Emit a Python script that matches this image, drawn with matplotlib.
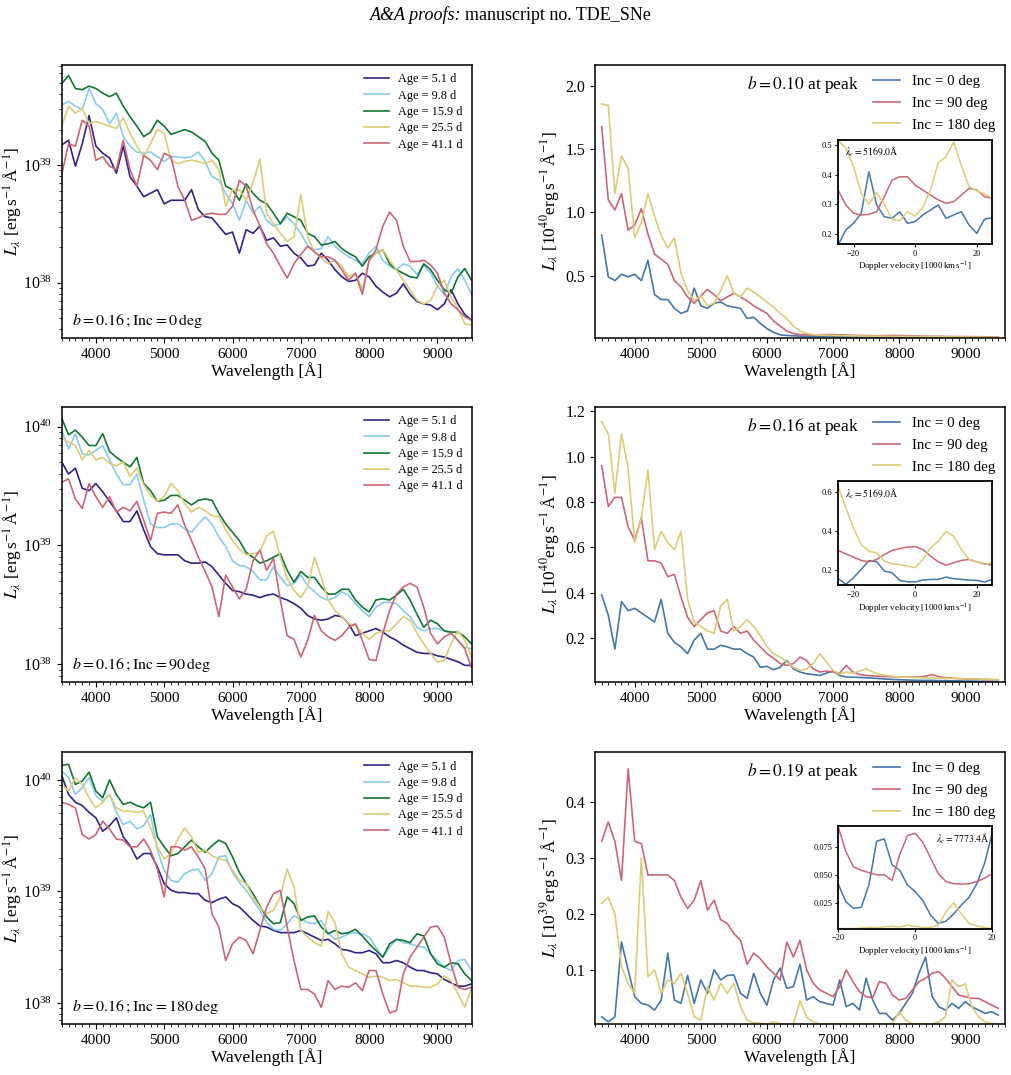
import numpy as np
import matplotlib
matplotlib.use('Agg')
import matplotlib.pyplot as plt
from matplotlib.ticker import MultipleLocator

plt.rcParams['font.family'] = ['Liberation Serif', 'DejaVu Serif']
plt.rcParams['mathtext.fontset'] = 'stix'

# wavelength grid of the read-off spectra [A]
wave = np.arange(3500, 9501, 100)

ages = ['5.1', '9.8', '15.9', '25.5', '41.1']
age_colors = ['#332288', '#88CCEE', '#117733', '#DDCC77', '#CC6677']

# left column: log10 L_lambda [erg/s/A], b = 0.16, Inc = 0 deg
logL_inc0_age5 = [39.17, 39.21, 38.99, 39.18, 39.42, 39.16, 39.10, 39.06, 38.93, 39.16,
                  38.90, 38.82, 38.73, 38.76, 38.79, 38.67, 38.70, 38.70, 38.70, 38.79,
                  38.62, 38.56, 38.55, 38.48, 38.41, 38.43, 38.25, 38.45, 38.42, 38.48,
                  38.36, 38.38, 38.31, 38.32, 38.25, 38.21, 38.14, 38.15, 38.25, 38.19,
                  38.11, 38.05, 38.01, 38.02, 38.08, 38.05, 37.97, 37.92, 37.88, 37.91,
                  37.99, 37.90, 37.84, 37.82, 37.81, 37.77, 37.82, 37.94, 37.82, 37.73,
                  37.68]
logL_inc0_age10 = [39.51, 39.54, 39.50, 39.47, 39.65, 39.52, 39.47, 39.35, 39.44, 39.24,
                   39.16, 39.11, 39.10, 39.11, 39.07, 39.03, 39.07, 39.07, 39.06, 39.07,
                   39.11, 39.03, 38.90, 38.87, 38.76, 38.67, 38.53, 38.70, 38.59, 38.65,
                   38.53, 38.48, 38.50, 38.56, 38.50, 38.42, 38.31, 38.28, 38.29, 38.39,
                   38.31, 38.26, 38.22, 38.19, 38.16, 38.25, 38.31, 38.19, 38.14, 38.11,
                   38.16, 38.14, 38.07, 38.15, 38.08, 37.97, 37.90, 38.05, 38.12, 38.02,
                   37.90]
logL_inc0_age16 = [39.69, 39.76, 39.65, 39.64, 39.67, 39.65, 39.61, 39.58, 39.61, 39.50,
                   39.41, 39.33, 39.24, 39.28, 39.38, 39.33, 39.26, 39.28, 39.30, 39.28,
                   39.24, 39.20, 39.10, 39.04, 38.82, 38.79, 38.70, 38.84, 38.76, 38.70,
                   38.67, 38.59, 38.50, 38.59, 38.56, 38.53, 38.42, 38.39, 38.32, 38.33,
                   38.35, 38.29, 38.25, 38.22, 38.14, 38.22, 38.25, 38.28, 38.16, 38.11,
                   38.08, 38.05, 38.04, 38.16, 38.11, 38.02, 37.94, 37.91, 38.05, 38.12,
                   38.02]
logL_inc0_age26 = [39.33, 39.50, 39.44, 39.48, 39.35, 39.37, 39.35, 39.33, 39.31, 39.40,
                   39.27, 39.16, 39.07, 39.18, 39.30, 39.27, 39.04, 39.01, 39.03, 39.04,
                   39.03, 39.01, 39.04, 38.96, 38.65, 38.79, 38.79, 38.70, 38.85, 39.05,
                   38.59, 38.50, 38.42, 38.35, 38.39, 38.75, 38.39, 38.26, 38.21, 38.16,
                   38.19, 38.14, 38.05, 38.08, 37.94, 38.19, 38.25, 38.28, 38.19, 38.11,
                   38.02, 37.94, 37.85, 37.82, 37.85, 37.97, 38.02, 37.88, 37.78, 37.65,
                   37.64]
logL_inc0_age41 = [38.92, 39.18, 39.16, 39.38, 39.33, 39.04, 39.07, 38.99, 38.96, 39.21,
                   38.96, 38.82, 39.08, 39.04, 38.96, 39.10, 39.07, 38.82, 38.70, 38.53,
                   38.55, 38.58, 38.59, 38.58, 38.58, 38.65, 38.87, 38.82, 38.62, 38.48,
                   38.33, 38.25, 38.14, 38.04, 38.16, 38.24, 38.31, 38.26, 38.22, 38.22,
                   38.19, 38.11, 38.02, 38.08, 37.90, 38.19, 38.28, 38.48, 38.60, 38.53,
                   38.31, 38.18, 38.18, 38.19, 38.15, 38.08, 37.91, 37.82, 37.77, 37.71,
                   37.68]

# b = 0.16, Inc = 90 deg
logL_inc90_age5 = [39.70, 39.60, 39.65, 39.48, 39.46, 39.52, 39.45, 39.37, 39.29, 39.20,
                   39.20, 39.29, 39.13, 38.99, 38.93, 38.92, 38.92, 38.92, 38.87, 38.85,
                   38.85, 38.86, 38.82, 38.75, 38.68, 38.62, 38.61, 38.59, 38.58, 38.56,
                   38.58, 38.59, 38.56, 38.54, 38.51, 38.47, 38.41, 38.38, 38.37, 38.38,
                   38.41, 38.40, 38.34, 38.24, 38.26, 38.28, 38.30, 38.27, 38.23, 38.20,
                   38.16, 38.13, 38.10, 38.09, 38.09, 38.07, 38.06, 38.04, 38.02, 37.99,
                   37.99]
logL_inc90_age10 = [39.97, 39.81, 39.94, 39.77, 39.76, 39.80, 39.84, 39.72, 39.60, 39.51,
                    39.51, 39.60, 39.38, 39.18, 39.15, 39.15, 39.18, 39.18, 39.14, 39.11,
                    39.18, 39.24, 39.18, 39.07, 38.99, 38.87, 38.83, 38.82, 38.78, 38.71,
                    38.71, 38.82, 38.73, 38.66, 38.68, 38.75, 38.66, 38.61, 38.56, 38.54,
                    38.56, 38.61, 38.58, 38.51, 38.45, 38.40, 38.48, 38.52, 38.52, 38.51,
                    38.45, 38.40, 38.31, 38.28, 38.30, 38.30, 38.28, 38.26, 38.20, 38.14,
                    38.13]
logL_inc90_age16 = [40.07, 39.93, 39.97, 39.91, 39.84, 39.84, 39.94, 39.79, 39.74, 39.70,
                    39.66, 39.74, 39.52, 39.46, 39.37, 39.38, 39.42, 39.42, 39.38, 39.34,
                    39.38, 39.39, 39.38, 39.27, 39.18, 39.11, 39.04, 38.94, 38.90, 38.85,
                    38.87, 38.90, 38.93, 38.79, 38.69, 38.78, 38.73, 38.73, 38.65, 38.59,
                    38.59, 38.63, 38.63, 38.54, 38.48, 38.44, 38.54, 38.55, 38.54, 38.58,
                    38.63, 38.54, 38.42, 38.31, 38.37, 38.34, 38.28, 38.27, 38.27, 38.23,
                    38.17]
logL_inc90_age26 = [39.90, 39.87, 39.84, 39.72, 39.80, 39.72, 39.74, 39.69, 39.67, 39.70,
                    39.58, 39.65, 39.51, 39.42, 39.37, 39.41, 39.52, 39.46, 39.35, 39.28,
                    39.32, 39.29, 39.25, 39.24, 39.13, 39.04, 38.97, 38.92, 38.93, 38.94,
                    39.08, 39.12, 38.90, 38.72, 38.62, 38.56, 38.65, 38.90, 38.73, 38.54,
                    38.45, 38.40, 38.34, 38.33, 38.26, 38.21, 38.26, 38.28, 38.28, 38.34,
                    38.40, 38.37, 38.26, 38.17, 38.09, 38.02, 38.03, 38.17, 38.28, 38.20,
                    38.06]
logL_inc90_age41 = [39.53, 39.56, 39.39, 39.31, 39.52, 39.41, 39.32, 39.41, 39.28, 39.32,
                    39.29, 39.37, 39.21, 39.04, 39.27, 39.28, 39.27, 39.34, 39.17, 39.04,
                    38.90, 38.78, 38.65, 38.40, 38.75, 38.65, 38.55, 38.63, 38.87, 38.96,
                    38.79, 38.89, 38.54, 38.24, 38.21, 38.06, 38.20, 38.41, 38.28, 38.23,
                    38.20, 38.24, 38.31, 38.34, 38.20, 38.04, 38.03, 38.26, 38.45, 38.59,
                    38.65, 38.68, 38.65, 38.48, 38.26, 38.17, 38.23, 38.26, 38.20, 38.13,
                    37.97]

# b = 0.16, Inc = 180 deg
logL_inc180_age5 = [40.04, 39.87, 39.80, 39.77, 39.71, 39.66, 39.54, 39.59, 39.66, 39.49,
                    39.41, 39.29, 39.34, 39.34, 39.22, 39.07, 39.01, 38.99, 38.99, 38.98,
                    38.98, 38.92, 38.90, 38.93, 38.95, 38.89, 38.86, 38.80, 38.74, 38.69,
                    38.68, 38.65, 38.63, 38.63, 38.63, 38.65, 38.62, 38.59, 38.56, 38.57,
                    38.53, 38.48, 38.47, 38.45, 38.45, 38.47, 38.44, 38.36, 38.36, 38.38,
                    38.36, 38.32, 38.29, 38.29, 38.27, 38.26, 38.21, 38.18, 38.15, 38.15,
                    38.17]
logL_inc180_age10 = [40.08, 40.02, 39.87, 39.93, 40.02, 39.86, 39.81, 39.87, 39.71, 39.60,
                     39.63, 39.56, 39.59, 39.69, 39.37, 39.19, 39.10, 39.08, 39.16, 39.19,
                     39.20, 39.10, 39.16, 39.31, 39.32, 39.17, 39.08, 39.01, 38.92, 38.83,
                     38.72, 38.66, 38.65, 38.71, 38.78, 38.75, 38.72, 38.71, 38.74, 38.63,
                     38.57, 38.59, 38.62, 38.63, 38.62, 38.59, 38.50, 38.41, 38.50, 38.57,
                     38.54, 38.53, 38.51, 38.50, 38.44, 38.38, 38.32, 38.29, 38.38, 38.39,
                     38.29]
logL_inc180_age16 = [40.13, 40.14, 39.96, 39.99, 40.07, 39.90, 39.84, 40.00, 39.87, 39.78,
                     39.80, 39.77, 39.75, 39.80, 39.49, 39.40, 39.32, 39.34, 39.40, 39.46,
                     39.40, 39.35, 39.41, 39.46, 39.43, 39.31, 39.17, 39.07, 38.98, 38.87,
                     38.77, 38.71, 38.72, 38.95, 38.89, 38.74, 38.77, 38.78, 38.68, 38.62,
                     38.65, 38.62, 38.63, 38.66, 38.60, 38.53, 38.47, 38.41, 38.53, 38.57,
                     38.56, 38.54, 38.62, 38.60, 38.44, 38.35, 38.32, 38.36, 38.35, 38.26,
                     38.20]
logL_inc180_age26 = [39.96, 39.90, 40.02, 39.96, 39.84, 39.75, 39.80, 39.87, 39.75, 39.72,
                     39.72, 39.71, 39.72, 39.57, 39.40, 39.29, 39.34, 39.47, 39.57, 39.49,
                     39.35, 39.37, 39.32, 39.29, 39.28, 39.19, 39.10, 39.07, 38.95, 38.86,
                     38.80, 38.83, 38.95, 39.20, 39.04, 38.65, 38.59, 38.54, 38.51, 38.82,
                     38.72, 38.44, 38.32, 38.29, 38.26, 38.23, 38.24, 38.23, 38.20, 38.21,
                     38.18, 38.15, 38.15, 38.14, 38.14, 38.17, 38.24, 38.20, 38.08, 37.96,
                     38.14]
logL_inc180_age41 = [39.80, 39.78, 39.75, 39.51, 39.47, 39.51, 39.63, 39.56, 39.47, 39.46,
                     39.40, 39.40, 39.47, 39.37, 39.20, 38.95, 39.40, 39.40, 39.37, 39.40,
                     39.31, 39.20, 38.80, 38.68, 38.38, 38.53, 38.59, 38.56, 38.44, 38.65,
                     38.86, 38.98, 39.01, 38.68, 38.38, 38.12, 38.12, 38.08, 37.96, 38.20,
                     38.12, 38.15, 38.14, 38.18, 38.11, 38.29, 38.29, 38.08, 37.91, 37.93,
                     38.26, 38.41, 38.50, 38.59, 38.68, 38.69, 38.59, 38.35, 38.14, 38.12,
                     38.14]

incs = ['0', '90', '180']
inc_colors = ['#4477AA', '#CC6677', '#DDCC77']

# right column: L_lambda at peak, b = 0.10 [1e40 erg/s/A]
Lpk_b10_inc0 = [0.82, 0.49, 0.46, 0.51, 0.49, 0.51, 0.46, 0.62, 0.35, 0.31,
                0.31, 0.24, 0.20, 0.22, 0.40, 0.26, 0.24, 0.28, 0.29, 0.26,
                0.25, 0.24, 0.16, 0.17, 0.12, 0.08, 0.05, 0.03, 0.025, 0.022,
                0.020, 0.019, 0.018, 0.017, 0.016, 0.015, 0.014, 0.013, 0.012, 0.012,
                0.011, 0.011, 0.010, 0.010, 0.009, 0.009, 0.008, 0.008, 0.008, 0.007,
                0.007, 0.007, 0.006, 0.006, 0.006, 0.006, 0.005, 0.005, 0.005, 0.005,
                0.005]
Lpk_b10_inc90 = [1.68, 1.10, 1.02, 1.15, 0.86, 0.90, 1.03, 0.83, 0.67, 0.63,
                 0.59, 0.46, 0.41, 0.33, 0.28, 0.34, 0.39, 0.35, 0.30, 0.33,
                 0.36, 0.33, 0.30, 0.26, 0.23, 0.20, 0.14, 0.10, 0.06, 0.04,
                 0.032, 0.030, 0.030, 0.030, 0.031, 0.032, 0.030, 0.028, 0.026, 0.025,
                 0.024, 0.023, 0.023, 0.024, 0.025, 0.025, 0.023, 0.021, 0.020, 0.019,
                 0.018, 0.018, 0.017, 0.017, 0.016, 0.016, 0.015, 0.015, 0.014, 0.014,
                 0.013]
Lpk_b10_inc180 = [1.86, 1.85, 1.15, 1.45, 1.35, 0.80, 0.92, 1.15, 0.97, 0.82,
                  0.72, 0.80, 0.52, 0.38, 0.30, 0.34, 0.26, 0.28, 0.38, 0.50,
                  0.36, 0.33, 0.40, 0.37, 0.33, 0.29, 0.25, 0.20, 0.16, 0.10,
                  0.06, 0.04, 0.032, 0.028, 0.026, 0.025, 0.024, 0.023, 0.022, 0.021,
                  0.020, 0.020, 0.019, 0.019, 0.018, 0.018, 0.017, 0.017, 0.016, 0.016,
                  0.015, 0.015, 0.014, 0.014, 0.013, 0.013, 0.012, 0.012, 0.011, 0.011,
                  0.010]

# b = 0.16 [1e40 erg/s/A]
Lpk_b16_inc0 = [0.39, 0.30, 0.15, 0.36, 0.32, 0.33, 0.31, 0.29, 0.27, 0.37,
                0.22, 0.18, 0.16, 0.13, 0.19, 0.22, 0.15, 0.15, 0.167, 0.16,
                0.15, 0.15, 0.13, 0.115, 0.07, 0.074, 0.059, 0.07, 0.10, 0.063,
                0.049, 0.041, 0.038, 0.034, 0.044, 0.053, 0.034, 0.027, 0.026, 0.025,
                0.024, 0.022, 0.020, 0.018, 0.016, 0.015, 0.014, 0.013, 0.012, 0.012,
                0.012, 0.011, 0.011, 0.010, 0.010, 0.009, 0.009, 0.008, 0.008, 0.007,
                0.007]
Lpk_b16_inc90 = [0.96, 0.78, 0.82, 0.82, 0.69, 0.63, 0.73, 0.54, 0.54, 0.53,
                 0.47, 0.48, 0.38, 0.29, 0.25, 0.28, 0.31, 0.32, 0.23, 0.22,
                 0.25, 0.22, 0.23, 0.19, 0.16, 0.13, 0.11, 0.086, 0.078, 0.086,
                 0.115, 0.10, 0.063, 0.049, 0.053, 0.049, 0.044, 0.078, 0.049, 0.038,
                 0.034, 0.032, 0.030, 0.029, 0.028, 0.027, 0.027, 0.026, 0.027, 0.030,
                 0.038, 0.028, 0.024, 0.022, 0.020, 0.018, 0.018, 0.017, 0.016, 0.015,
                 0.015]
Lpk_b16_inc180 = [1.155, 1.10, 0.84, 1.10, 0.95, 0.62, 0.73, 0.94, 0.59, 0.67,
                  0.62, 0.59, 0.67, 0.37, 0.27, 0.25, 0.23, 0.22, 0.34, 0.37,
                  0.23, 0.25, 0.28, 0.25, 0.21, 0.16, 0.13, 0.115, 0.093, 0.07,
                  0.056, 0.063, 0.086, 0.13, 0.093, 0.056, 0.04, 0.049, 0.044, 0.053,
                  0.063, 0.049, 0.038, 0.034, 0.030, 0.027, 0.026, 0.025, 0.024, 0.023,
                  0.022, 0.022, 0.021, 0.021, 0.020, 0.019, 0.019, 0.018, 0.017, 0.016,
                  0.015]

# b = 0.19 [1e39 erg/s/A]
Lpk_b19_inc0 = [0.016, 0.007, 0.016, 0.15, 0.10, 0.052, 0.04, 0.037, 0.028, 0.046,
                0.13, 0.046, 0.04, 0.09, 0.04, 0.082, 0.058, 0.10, 0.082, 0.09,
                0.091, 0.058, 0.049, 0.094, 0.058, 0.037, 0.082, 0.103, 0.067, 0.07,
                0.11, 0.046, 0.052, 0.043, 0.04, 0.037, 0.082, 0.034, 0.04, 0.028,
                0.085, 0.046, 0.022, 0.022, 0.01, 0.022, 0.04, 0.058, 0.094, 0.123,
                0.052, 0.034, 0.028, 0.04, 0.031, 0.043, 0.034, 0.028, 0.022, 0.025,
                0.019]
Lpk_b19_inc90 = [0.33, 0.365, 0.33, 0.26, 0.46, 0.33, 0.326, 0.27, 0.27, 0.27,
                 0.27, 0.26, 0.23, 0.21, 0.225, 0.26, 0.207, 0.225, 0.19, 0.183,
                 0.165, 0.153, 0.11, 0.13, 0.12, 0.105, 0.094, 0.082, 0.150, 0.123,
                 0.153, 0.10, 0.076, 0.064, 0.058, 0.052, 0.07, 0.10, 0.079, 0.061,
                 0.052, 0.050, 0.079, 0.076, 0.055, 0.046, 0.049, 0.064, 0.079, 0.085,
                 0.094, 0.097, 0.085, 0.07, 0.055, 0.052, 0.049, 0.049, 0.043, 0.037,
                 0.031]
Lpk_b19_inc180 = [0.219, 0.23, 0.20, 0.106, 0.076, 0.058, 0.30, 0.088, 0.10, 0.058,
                  0.082, 0.076, 0.094, 0.058, 0.016, 0.01, 0.07, 0.046, 0.076, 0.058,
                  0.076, 0.034, 0.01, 0.005, 0.004, 0.003, 0.007, 0.004, 0.003, 0.003,
                  0.045, 0.015, 0.007, 0.003, 0.003, 0.003, 0.003, 0.003, 0.003, 0.003,
                  0.003, 0.003, 0.003, 0.003, 0.004, 0.025, 0.01, 0.003, 0.003, 0.003,
                  0.003, 0.007, 0.016, 0.082, 0.07, 0.075, 0.034, 0.016, 0.007, 0.004,
                  0.003]

# insets: line profiles vs Doppler velocity [1000 km/s]
vel_5169 = np.arange(-25, 25.1, 2.5)
prof_b10_inc0 = [0.163, 0.213, 0.236, 0.27, 0.41, 0.298, 0.258, 0.253, 0.275, 0.236, 0.242,
                 0.264, 0.281, 0.298, 0.253, 0.264, 0.275, 0.23, 0.202, 0.25, 0.255]
prof_b10_inc90 = [0.348, 0.298, 0.27, 0.264, 0.266, 0.275, 0.326, 0.382, 0.393, 0.393, 0.365,
                  0.348, 0.331, 0.315, 0.303, 0.309, 0.331, 0.354, 0.348, 0.326, 0.32]
prof_b10_inc180 = [0.515, 0.49, 0.427, 0.337, 0.30, 0.34, 0.30, 0.25, 0.245, 0.275, 0.26,
                   0.29, 0.35, 0.44, 0.46, 0.51, 0.43, 0.36, 0.345, 0.335, 0.32]
prof_b16_inc0 = [0.159, 0.129, 0.163, 0.205, 0.25, 0.245, 0.197, 0.188, 0.149, 0.142, 0.141,
                 0.151, 0.154, 0.154, 0.166, 0.158, 0.154, 0.151, 0.149, 0.141, 0.154]
prof_b16_inc90 = [0.302, 0.285, 0.268, 0.251, 0.244, 0.256, 0.281, 0.302, 0.312, 0.319, 0.322,
                  0.307, 0.273, 0.244, 0.227, 0.239, 0.251, 0.256, 0.244, 0.234, 0.227]
prof_b16_inc180 = [0.63, 0.52, 0.417, 0.332, 0.298, 0.29, 0.247, 0.234, 0.23, 0.222, 0.214,
                   0.256, 0.315, 0.35, 0.40, 0.375, 0.307, 0.256, 0.244, 0.23, 0.239]

vel_7773 = np.arange(-20, 20.1, 2)
prof_b19_inc0 = [0.042, 0.026, 0.020, 0.021, 0.041, 0.080, 0.082, 0.059, 0.054, 0.041, 0.035,
                 0.027, 0.014, 0.0066, 0.0086, 0.015, 0.023, 0.030, 0.042, 0.060, 0.087]
prof_b19_inc90 = [0.093, 0.071, 0.057, 0.054, 0.052, 0.050, 0.050, 0.045, 0.068, 0.085, 0.087,
                  0.079, 0.065, 0.051, 0.044, 0.042, 0.0417, 0.042, 0.044, 0.047, 0.051]
prof_b19_inc180 = [0.002, 0.002, 0.002, 0.0025, 0.003, 0.003, 0.0035, 0.004, 0.0035, 0.005, 0.004,
                   0.003, 0.003, 0.005, 0.017, 0.025, 0.015, 0.0065, 0.0045, 0.003, 0.002]

LW = 1.2


def style_xaxis(ax, xlim):
    ax.set_xlim(*xlim)
    ax.xaxis.set_major_locator(MultipleLocator(1000))
    ax.xaxis.set_minor_locator(MultipleLocator(100))
    ax.tick_params(labelsize=11)
    ax.set_xlabel('Wavelength [Å]', fontsize=12.5, labelpad=1)
    for sp in ax.spines.values():
        sp.set_linewidth(1.1)


def left_panel(ax, series, inc, ylim):
    for vals, age, col in zip(series, ages, age_colors):
        ax.semilogy(wave, 10 ** np.array(vals), color=col, lw=LW,
                    label='Age = %s d' % age)
    style_xaxis(ax, (3500, 9500))
    ax.tick_params(axis='y', which='major', labelsize=11.5)
    ax.set_ylim(10 ** ylim[0], 10 ** ylim[1])
    ax.set_ylabel(r'$L_{\lambda}$ [erg$\,$s$^{-1}\,$Å$^{-1}$]', fontsize=12.5)
    ax.yaxis.set_label_coords(-0.09, 0.5)
    ax.legend(loc='upper right', fontsize=8.8, frameon=False, labelspacing=0.35,
              handlelength=2.1, handletextpad=0.75, borderaxespad=0.3)
    ax.text(0.025, 0.065, r'$b=0.16\,;\mathrm{Inc}=%s\,\mathrm{deg}$' % inc,
            transform=ax.transAxes, fontsize=11.5, va='center')


def right_panel(ax, series, b, unit, ylim, ytks, vel, profs, inset_pos,
                inset_xlim, inset_ylim, inset_yticks, lam_c, lam_right):
    for vals, inc, col in zip(series, incs, inc_colors):
        ax.plot(wave, vals, color=col, lw=LW, label='Inc = %s deg' % inc)
    style_xaxis(ax, (3400, 9600))
    ax.tick_params(axis='y', labelsize=11.5)
    ax.set_ylim(*ylim)
    ax.set_yticks(ytks)
    ax.set_ylabel(r'$L_{\lambda}$ [10$^{%d}$erg$\,$s$^{-1}\,$Å$^{-1}$]' % unit,
                  fontsize=12.5)
    ax.yaxis.set_label_coords(-0.08, 0.5)
    ax.legend(loc='upper right', fontsize=10.8, frameon=False, labelspacing=0.55,
              handlelength=1.8, handletextpad=0.8, borderaxespad=0.25)
    ax.text(0.645, 0.93, r'$b=%s$ at peak' % b, transform=ax.transAxes,
            fontsize=12.5, ha='right', va='center')

    axi = ax.inset_axes(inset_pos)
    for vals, col in zip(profs, inc_colors):
        axi.plot(vel, vals, color=col, lw=1.1)
    axi.set_xlim(*inset_xlim)
    axi.set_ylim(*inset_ylim)
    axi.set_xticks([-20, 0, 20])
    axi.set_yticks(inset_yticks)
    axi.tick_params(labelsize=6, length=2.5, pad=1.5)
    axi.set_xlabel(r'Doppler velocity [1000$\,$km$\,$s$^{-1}$]', fontsize=6.5, labelpad=2)
    for sp in axi.spines.values():
        sp.set_linewidth(1.3)
    if lam_right:
        axi.text(0.98, 0.87, r'$\lambda_c=%s$Å' % lam_c, transform=axi.transAxes,
                 fontsize=7, ha='right', va='center')
    else:
        axi.text(0.045, 0.885, r'$\lambda_c=%s$Å' % lam_c, transform=axi.transAxes,
                 fontsize=7, ha='left', va='center')


if __name__ == '__main__':
    fig = plt.figure(figsize=(10.12, 10.75), dpi=100)
    fig.text(0.456, 0.986, 'A&A proofs:', ha='right', va='center', fontsize=13,
             fontstyle='italic')
    fig.text(0.459, 0.986, 'manuscript no. TDE_SNe', ha='left', va='center', fontsize=13)

    xl, xr, w = 0.061, 0.588, 0.405
    rows = [(0.6856, 0.254), (0.3656, 0.256), (0.0474, 0.253)]

    ax1 = fig.add_axes([xl, rows[0][0], w, rows[0][1]])
    left_panel(ax1, [logL_inc0_age5, logL_inc0_age10, logL_inc0_age16,
                     logL_inc0_age26, logL_inc0_age41], '0', (37.53, 39.85))
    ax3 = fig.add_axes([xl, rows[1][0], w, rows[1][1]])
    left_panel(ax3, [logL_inc90_age5, logL_inc90_age10, logL_inc90_age16,
                     logL_inc90_age26, logL_inc90_age41], '90', (37.85, 40.166))
    ax5 = fig.add_axes([xl, rows[2][0], w, rows[2][1]])
    left_panel(ax5, [logL_inc180_age5, logL_inc180_age10, logL_inc180_age16,
                     logL_inc180_age26, logL_inc180_age41], '180', (37.81, 40.25))

    ax2 = fig.add_axes([xr, rows[0][0], w, rows[0][1]])
    right_panel(ax2, [Lpk_b10_inc0, Lpk_b10_inc90, Lpk_b10_inc180], '0.10', 40,
                (0.005, 2.17), [0.5, 1.0, 1.5, 2.0], vel_5169,
                [prof_b10_inc0, prof_b10_inc90, prof_b10_inc180],
                [0.593, 0.344, 0.376, 0.381], (-25, 25), (0.166, 0.517),
                [0.2, 0.3, 0.4, 0.5], '5169.0', False)
    ax4 = fig.add_axes([xr, rows[1][0], w, rows[1][1]])
    right_panel(ax4, [Lpk_b16_inc0, Lpk_b16_inc90, Lpk_b16_inc180], '0.16', 40,
                (0.005, 1.22), [0.2, 0.4, 0.6, 0.8, 1.0, 1.2], vel_5169,
                [prof_b16_inc0, prof_b16_inc90, prof_b16_inc180],
                [0.593, 0.352, 0.376, 0.377], (-25, 25), (0.125, 0.655),
                [0.2, 0.4, 0.6], '5169.0', False)
    ax6 = fig.add_axes([xr, rows[2][0], w, rows[2][1]])
    right_panel(ax6, [Lpk_b19_inc0, Lpk_b19_inc90, Lpk_b19_inc180], '0.19', 39,
                (0.003, 0.49), [0.1, 0.2, 0.3, 0.4], vel_7773,
                [prof_b19_inc0, prof_b19_inc90, prof_b19_inc180],
                [0.593, 0.351, 0.376, 0.379], (-20, 20), (0.002, 0.094),
                [0.025, 0.05, 0.075], '7773.4', True)

    fig.savefig('out.png', dpi=100)
